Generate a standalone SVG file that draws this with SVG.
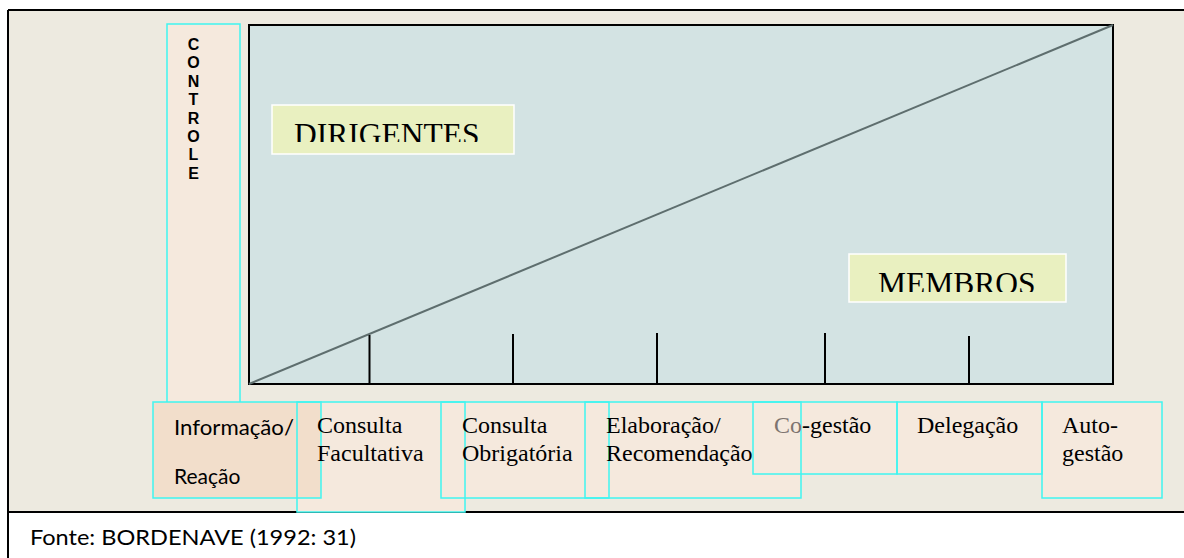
<svg xmlns="http://www.w3.org/2000/svg" width="1184" height="558" viewBox="0 0 1184 558">
<defs>
<style>
.serif{font-family:"Liberation Serif","Times New Roman",serif;font-size:24px;fill:#000}
.sans{font-family:Lato,"Liberation Sans",sans-serif;font-size:21px;fill:#000}
.ctl{font-family:"Liberation Sans",Arial,sans-serif;font-size:16px;font-weight:bold;fill:#000;text-anchor:middle}
.box{fill:#F5E9DD}
.edge{fill:none;stroke:#3FF5F0;stroke-width:1.5}
.lbl{fill:#E9F0C0;stroke:#FFFFFF;stroke-width:1.5}
.big{font-family:"Liberation Serif","Times New Roman",serif;font-size:31.5px;fill:#000}
.tick{stroke:#000;stroke-width:2}
</style>
<clipPath id="clipD"><rect x="272" y="105" width="242" height="37"/></clipPath>
<clipPath id="clipM"><rect x="849" y="254" width="217" height="38"/></clipPath>
</defs>
<rect x="0" y="0" width="1184" height="558" fill="#FFFFFF"/>
<rect x="8" y="10" width="1200" height="502" fill="#EDEAE0"/>
<g id="frame" fill="none" stroke="#000" stroke-width="2">
<line x1="8" y1="10" x2="1184" y2="10"/>
<line x1="8" y1="10" x2="8" y2="558"/>
<line x1="8" y1="512" x2="1184" y2="512"/>
</g>
<g id="controle">
<rect x="167" y="24" width="73" height="381" class="box"/>
<rect x="167" y="24" width="73" height="381" class="edge"/>
<text class="ctl" x="193.5" y="50">C</text>
<text class="ctl" x="193.5" y="68.4">O</text>
<text class="ctl" x="193.5" y="86.8">N</text>
<text class="ctl" x="193.5" y="105.2">T</text>
<text class="ctl" x="193.5" y="123.6">R</text>
<text class="ctl" x="193.5" y="142">O</text>
<text class="ctl" x="193.5" y="160.4">L</text>
<text class="ctl" x="193.5" y="178.8">E</text>
</g>
<g id="chart">
<rect x="249" y="25" width="864" height="359" fill="#D3E3E3" stroke="#000" stroke-width="2"/>
</g>
<g id="connectors">
<line x1="249" y1="384" x2="1113" y2="25" stroke="#5E6E6E" stroke-width="2"/>
<line class="tick" x1="369.5" y1="335" x2="369.5" y2="384"/>
<line class="tick" x1="513" y1="334" x2="513" y2="384"/>
<line class="tick" x1="657" y1="333" x2="657" y2="384"/>
<line class="tick" x1="825" y1="333" x2="825" y2="384"/>
<line class="tick" x1="969" y1="336" x2="969" y2="384"/>
</g>
<g id="dirigentes">
<rect x="272" y="105" width="242" height="49" class="lbl"/>
<text class="big" x="294" y="145" clip-path="url(#clipD)">DIRIGENTES</text>
</g>
<g id="membros">
<rect x="849" y="254" width="217" height="48" class="lbl"/>
<text class="big" x="878" y="294" clip-path="url(#clipM)">MEMBROS</text>
</g>
<g id="consulta-facultativa">
<rect x="297" y="402" width="168" height="110" class="box"/>
</g>
<g id="informacao">
<rect x="153" y="402" width="168" height="96" fill="#F2DECB"/>
</g>
<g id="consulta-obrigatoria">
<rect x="441" y="402" width="168" height="96" class="box"/>
</g>
<g id="elaboracao">
<rect x="585" y="402" width="216" height="96" class="box"/>
</g>
<g id="cogestao">
<rect x="753" y="402" width="144" height="72" class="box"/>
</g>
<g id="delegacao">
<rect x="897" y="402" width="145" height="72" class="box"/>
</g>
<g id="autogestao">
<rect x="1042" y="402" width="120" height="96" class="box"/>
</g>
<g id="box-edges">
<rect x="297" y="402" width="168" height="110" class="edge"/>
<rect x="153" y="402" width="168" height="96" class="edge"/>
<rect x="441" y="402" width="168" height="96" class="edge"/>
<rect x="585" y="402" width="216" height="96" class="edge"/>
<rect x="753" y="402" width="144" height="72" class="edge"/>
<rect x="897" y="402" width="145" height="72" class="edge"/>
<rect x="1042" y="402" width="120" height="96" class="edge"/>
</g>
<g id="labels">
<text class="sans" x="174" y="435" textLength="120" lengthAdjust="spacingAndGlyphs">Informação/</text>
<text class="sans" x="174" y="484">Reação</text>
<text class="serif" x="317" y="433">Consulta</text>
<text class="serif" x="317" y="461">Facultativa</text>
<text class="serif" x="462" y="433">Consulta</text>
<text class="serif" x="462" y="461">Obrigatória</text>
<text class="serif" x="606" y="433">Elaboração/</text>
<text class="serif" x="606" y="461">Recomendação</text>
<text class="serif" x="774" y="433"><tspan fill="#7D7470">Co</tspan>-gestão</text>
<text class="serif" x="917" y="433">Delegação</text>
<text class="serif" x="1062" y="433">Auto-</text>
<text class="serif" x="1062" y="461">gestão</text>
</g>
<g id="fonte">
<text class="sans" x="30" y="545" textLength="326" lengthAdjust="spacingAndGlyphs">Fonte: BORDENAVE (1992: 31)</text>
</g>
</svg>
